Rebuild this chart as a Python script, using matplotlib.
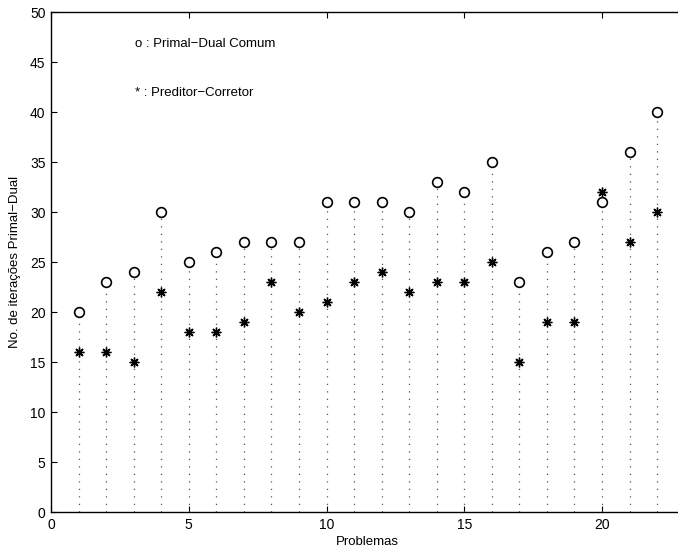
import numpy as np
import matplotlib.pyplot as plt

plt.rcParams['font.family'] = ['Liberation Sans', 'DejaVu Sans']

problemas = np.arange(1, 23)
primal_dual = [20, 23, 24, 30, 25, 26, 27, 27, 27, 31, 31, 31, 30, 33, 32, 35, 23, 26, 27, 31, 36, 40]
preditor = [16, 16, 15, 22, 18, 18, 19, 23, 20, 21, 23, 24, 22, 23, 23, 25, 15, 19, 19, 32, 27, 30]

fig = plt.figure(figsize=(6.78, 5.54), dpi=100)
ax = fig.add_axes([51 / 678, 42 / 554, 633.7 / 678, 500 / 554])

ax.vlines(problemas, 0, primal_dual, colors='#555555', linestyles=(0, (1, 5)), linewidth=0.9)
ax.plot(problemas, primal_dual, 'o', mfc='white', mec='black', ms=7, mew=1.2, linestyle='none')
ax.plot(problemas, preditor, linestyle='none', marker=(8, 2, 0), color='black', ms=7, mew=1.0)

ax.set_xlim(0, 23)
ax.set_ylim(0, 50)
ax.set_xticks([0, 5, 10, 15, 20])
ax.set_yticks(range(0, 51, 5))
ax.tick_params(direction='in', top=True, right=False, labelsize=10, length=4, width=0.8, pad=4)
for s in ['left', 'bottom', 'top']:
    ax.spines[s].set_linewidth(1.0)
ax.spines['right'].set_visible(False)

ax.set_xlabel('Problemas', fontsize=9.5, labelpad=3)
ax.set_ylabel('No. de iterações Primal\u2212Dual', fontsize=9.5, labelpad=6)

ax.text(3.05, 46.8, 'o : Primal\u2212Dual Comum', fontsize=9.5, va='center')
ax.text(3.05, 41.9, '* : Preditor\u2212Corretor', fontsize=9.5, va='center')

fig.savefig('out.png', dpi=100)
